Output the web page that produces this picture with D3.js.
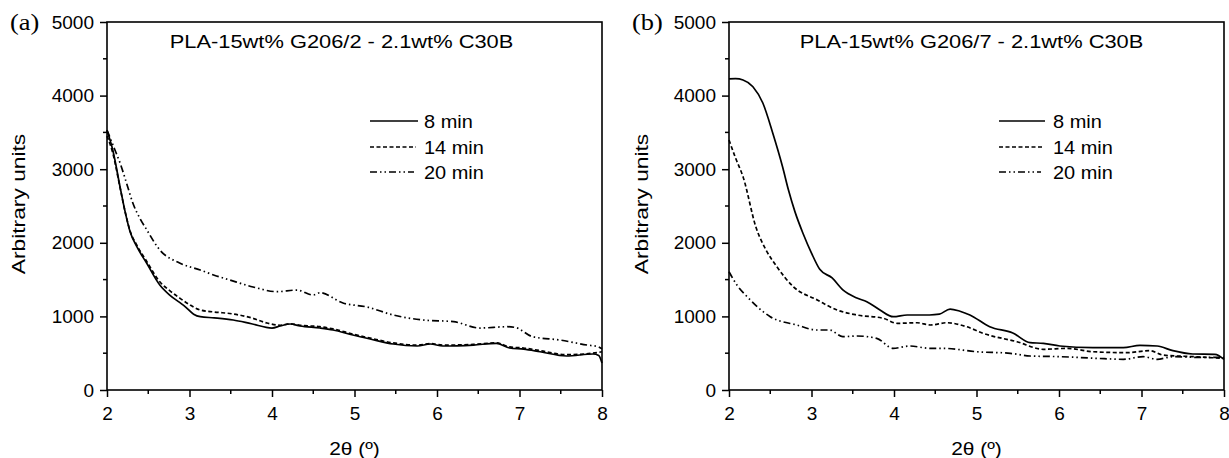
<!DOCTYPE html>
<html><head><meta charset="utf-8">
<script src="https://cdn.jsdelivr.net/npm/d3@7/dist/d3.min.js"></script>
<style>body{margin:0;background:#fff}svg{display:block}</style>
</head><body>
<svg id="chart" width="1229" height="458"></svg>
<script>
// ---------- data ----------
const panelLabels = ["(a)", "(b)"];
const panelTitles = ["PLA-15wt% G206/2 - 2.1wt% C30B", "PLA-15wt% G206/7 - 2.1wt% C30B"];
const seriesNames = ["8 min", "14 min", "20 min"];
const xTicks = [2, 3, 4, 5, 6, 7, 8];
const yTicks = [0, 1000, 2000, 3000, 4000, 5000];
const xLabel = "2\u03B8 (\u00BA)";
const yLabel = "Arbitrary units";

// panel (a)
const a8x = [2.0,2.07,2.16,2.22,2.28,2.36,2.48,2.64,2.76,2.88,2.95,3.05,3.13,3.3,3.53,3.75,4.0,4.1,4.22,4.34,4.58,4.74,4.98,5.19,5.47,5.76,5.92,6.07,6.44,6.72,6.88,7.05,7.25,7.57,7.89,7.96,8.0];
const a8y = [3530,3260,2750,2420,2150,1950,1725,1427,1290,1190,1130,1030,996,980,951,900,842,870,897,870,842,815,747,693,625,598,625,598,611,634,571,555,520,462,489,470,367];
const a14x = [2.0,2.07,2.16,2.22,2.28,2.36,2.48,2.64,2.76,2.88,3.0,3.13,3.3,3.53,3.75,3.94,4.1,4.22,4.34,4.58,4.74,4.98,5.19,5.47,5.76,5.92,6.07,6.44,6.72,6.88,7.05,7.25,7.57,7.89,8.0];
const a14y = [3450,3220,2740,2420,2160,1970,1750,1470,1350,1250,1160,1087,1060,1033,980,910,880,900,880,860,830,760,705,640,610,630,610,620,640,585,570,535,480,500,520];
const a20x = [2.0,2.04,2.1,2.16,2.24,2.32,2.4,2.48,2.64,2.88,3.13,3.3,3.49,3.77,4.06,4.3,4.5,4.58,4.86,5.15,5.47,5.83,6.2,6.52,6.85,6.95,7.16,7.49,7.82,7.95,8.0];
const a20y = [3530,3420,3250,3080,2800,2520,2330,2180,1902,1725,1630,1560,1494,1400,1336,1358,1290,1322,1182,1128,1019,951,928,842,860,850,724,679,611,589,560];

// panel (b)
const b8x = [2.0,2.08,2.17,2.29,2.41,2.53,2.65,2.72,2.8,2.9,3.0,3.1,3.25,3.38,3.55,3.67,3.83,3.99,4.16,4.43,4.55,4.68,4.8,4.92,5.16,5.44,5.65,5.81,6.01,6.41,6.78,6.98,7.19,7.38,7.62,7.89,8.0];
const b8y = [4226,4230,4212,4121,3899,3492,3030,2720,2420,2120,1860,1640,1522,1359,1250,1200,1087,996,1019,1019,1030,1100,1070,1019,860,774,643,634,598,575,575,607,598,534,489,484,417];
const b14x = [2.0,2.08,2.17,2.33,2.45,2.58,2.78,3.07,3.31,3.55,3.87,4.04,4.28,4.44,4.64,4.88,5.08,5.49,5.81,6.1,6.41,6.82,7.1,7.26,7.62,8.0];
const b14y = [3397,3150,2898,2200,1900,1675,1403,1223,1087,1019,974,906,914,883,914,860,770,656,553,566,520,507,534,475,453,430];
const b20x = [2.0,2.1,2.22,2.5,2.82,3.07,3.22,3.38,3.55,3.79,3.99,4.19,4.44,4.6,5.0,5.41,5.65,6.01,6.46,6.78,7.02,7.19,7.38,7.67,8.0];
const b20y = [1607,1420,1268,996,883,815,815,724,734,702,566,598,566,566,520,498,462,453,430,417,453,417,453,444,444];

// ---------- layout ----------
const svg = d3.select("#chart");
const dashes = [null, "4,2.5", "7,3,1.5,3,1.5,3"];
const panels = [
  {left:107, right:602, top:22, bottom:390, series:[[a8x,a8y],[a14x,a14y],[a20x,a20y]],
   legX:370, legLen:[48,46,44], titleDx:-13, ylabX:25},
  {left:729, right:1224, top:22, bottom:390, series:[[b8x,b8y],[b14x,b14y],[b20x,b20y]],
   legX:999, legLen:[46,44,42], titleDx:-5, ylabX:648}
];
const font = "'Liberation Sans', Arial, Helvetica, sans-serif";

function stext(g, str, x, y, opts) {
  const o = Object.assign({sx:1, rot:0, size:19, anchor:"start", family:font}, opts||{});
  return g.append("text")
    .attr("transform", `translate(${x},${y}) rotate(${o.rot}) scale(${o.sx},1)`)
    .attr("text-anchor", o.anchor)
    .attr("font-family", o.family)
    .attr("font-size", o.size)
    .attr("fill", "#000")
    .text(str);
}

panels.forEach((p, i) => {
  const g = svg.append("g");
  const x = d3.scaleLinear().domain([2, 8]).range([p.left, p.right]);
  const y = d3.scaleLinear().domain([0, 5000]).range([p.bottom, p.top]);

  // minor ticks
  const xMinor = d3.range(2.5, 8, 1);
  const yMinor = d3.range(500, 5000, 1000);
  g.selectAll(".xm").data(xMinor).enter().append("line")
    .attr("x1", d => x(d)).attr("x2", d => x(d))
    .attr("y1", p.bottom).attr("y2", p.bottom + 4)
    .attr("stroke", "#000").attr("stroke-width", 1.5);
  g.selectAll(".ym").data(yMinor).enter().append("line")
    .attr("x1", p.left - 4).attr("x2", p.left)
    .attr("y1", d => y(d)).attr("y2", d => y(d))
    .attr("stroke", "#000").attr("stroke-width", 1.5);

  // axes via d3
  const xAxis = g.append("g").attr("transform", `translate(0,${p.bottom})`)
    .call(d3.axisBottom(x).tickValues(xTicks).tickSize(7).tickPadding(5).tickFormat(d3.format("d")));
  const yAxis = g.append("g").attr("transform", `translate(${p.left},0)`)
    .call(d3.axisLeft(y).tickValues(yTicks).tickSize(7).tickPadding(6).tickFormat(d3.format("d")));
  [xAxis, yAxis].forEach(ax => {
    ax.select(".domain").remove();
    ax.selectAll("line").attr("stroke", "#000").attr("stroke-width", 1.5);
    ax.selectAll("text").attr("font-family", font).attr("font-size", 19).attr("fill", "#000");
  });
  xAxis.selectAll("text").attr("dy", "0.95em");

  // frame
  g.append("rect").attr("x", p.left).attr("y", p.top)
    .attr("width", p.right - p.left).attr("height", p.bottom - p.top)
    .attr("fill", "none").attr("stroke", "#000").attr("stroke-width", 1.6);

  // curves
  const line = d3.line().x(d => x(d[0])).y(d => y(d[1])).curve(d3.curveMonotoneX);
  p.series.forEach((s, k) => {
    const pts = s[0].map((v, j) => [v, s[1][j]]);
    g.append("path").datum(pts).attr("d", line)
      .attr("fill", "none").attr("stroke", "#000").attr("stroke-width", 1.7)
      .attr("stroke-dasharray", dashes[k]);
  });

  // legend
  const legY = [121, 147, 172];
  seriesNames.forEach((nm, k) => {
    g.append("line").attr("x1", p.legX).attr("x2", p.legX + p.legLen[k])
      .attr("y1", legY[k]).attr("y2", legY[k])
      .attr("stroke", "#000").attr("stroke-width", 1.7)
      .attr("stroke-dasharray", dashes[k]);
    stext(g, nm, p.legX + 54, legY[k] + 7, {sx:1.05});
  });

  // title
  stext(g, panelTitles[i], (p.left + p.right) / 2 + p.titleDx, 48, {anchor:"middle", sx:1.15});
  // axis labels
  stext(g, xLabel, (p.left + p.right) / 2, 455, {anchor:"middle", sx:1.1});
  stext(g, yLabel, p.ylabX, (p.top + p.bottom) / 2 - 2, {anchor:"middle", rot:-90, sx:1.2});
  // panel label
  stext(g, panelLabels[i], p.left - 97, 30,
        {family:"'Liberation Serif', 'Times New Roman', serif", size:24, sx:1.1});
});
</script>
</body></html>
